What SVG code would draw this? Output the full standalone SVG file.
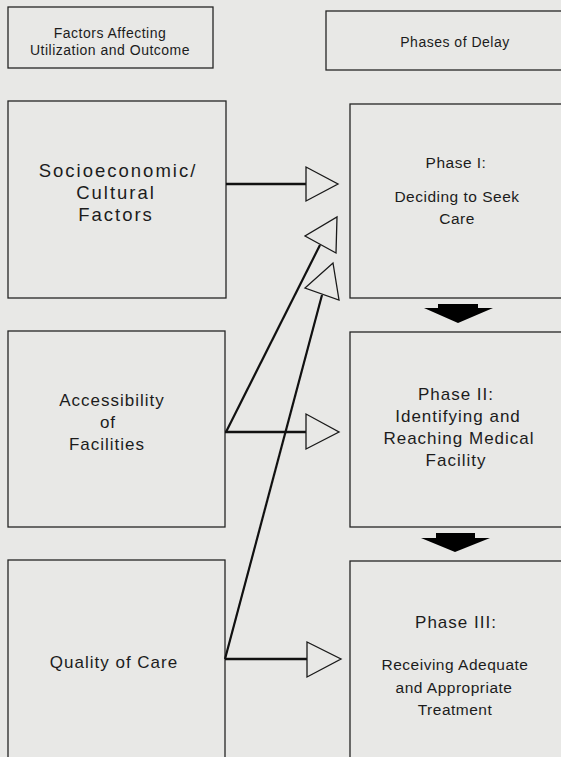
<svg xmlns="http://www.w3.org/2000/svg" width="561" height="757" viewBox="0 0 561 757">
<style>
.box{fill:none;stroke:#262626;stroke-width:1.3}
.t{font-family:"Liberation Sans",Arial,sans-serif;fill:#1c1c1c;text-anchor:middle}
.hd{font-size:14px;letter-spacing:0.5px}
.big{font-size:18.5px;letter-spacing:2px}
.md{font-size:17px;letter-spacing:1px}
.sm{font-size:15.5px;letter-spacing:0.5px}
.ln{stroke:#111;stroke-width:2.5;fill:none}
.dg{stroke:#111;stroke-width:2.2;fill:none}
.hd-tri{fill:#e8e8e6;stroke:#1a1a1a;stroke-width:1.3;stroke-linejoin:miter}
.blk{fill:#000}
</style>
<rect x="0" y="0" width="561" height="757" fill="#e8e8e6"/>

<g id="header-factors">
<rect class="box" x="8" y="7" width="205" height="61"/>
<text class="t hd" x="110" y="38">Factors Affecting</text>
<text class="t hd" x="110" y="55">Utilization and Outcome</text>
</g>
<g id="header-phases">
<rect class="box" x="326" y="11" width="260" height="59"/>
<text class="t hd" x="455" y="47">Phases of Delay</text>
</g>

<g id="socioeconomic">
<rect class="box" x="8" y="101" width="218" height="197"/>
<text class="t big" x="118" y="177">Socioeconomic/</text>
<text class="t big" x="116" y="199">Cultural</text>
<text class="t big" x="116" y="221">Factors</text>
</g>
<g id="accessibility">
<rect class="box" x="8" y="331" width="217" height="196"/>
<text class="t md" x="112" y="406">Accessibility</text>
<text class="t md" x="108" y="428">of</text>
<text class="t md" x="107" y="450">Facilities</text>
</g>
<g id="quality">
<rect class="box" x="8" y="560" width="217" height="220"/>
<text class="t md" x="114" y="668">Quality of Care</text>
</g>

<g id="phase1">
<rect class="box" x="350" y="104" width="230" height="194"/>
<text class="t sm" x="456" y="168">Phase I:</text>
<text class="t sm" x="457" y="202">Deciding to Seek</text>
<text class="t sm" x="457" y="224">Care</text>
</g>
<g id="phase2">
<rect class="box" x="350" y="332" width="230" height="195"/>
<text class="t md" x="456" y="400">Phase II:</text>
<text class="t md" x="458" y="422">Identifying and</text>
<text class="t md" x="459" y="444">Reaching Medical</text>
<text class="t md" x="456" y="466">Facility</text>
</g>
<g id="phase3">
<rect class="box" x="350" y="561" width="230" height="220"/>
<text class="t md" x="456" y="628">Phase III:</text>
<text class="t sm" x="455" y="670">Receiving Adequate</text>
<text class="t sm" x="454" y="693">and Appropriate</text>
<text class="t sm" x="455" y="715">Treatment</text>
</g>

<g id="connectors">
<line class="ln" x1="226" y1="184" x2="306" y2="184"/>
<polygon class="hd-tri" points="306,167 306,201 338,184"/>

<line class="ln" x1="225" y1="432" x2="306" y2="432"/>
<polygon class="hd-tri" points="306,414 306,449 339,432"/>

<line class="ln" x1="225" y1="659" x2="307" y2="659"/>
<polygon class="hd-tri" points="307,642 307,677 341,659"/>

<line class="dg" x1="226" y1="432" x2="320" y2="245"/>
<polygon class="hd-tri" points="337,217 336,253 305,236"/>

<line class="dg" x1="225" y1="659" x2="322" y2="295"/>
<polygon class="hd-tri" points="333,263 339,300 305,288"/>

<path class="blk" d="M438,304 H478 V308 H493 L458,323 L424,308 H438 Z"/>
<path class="blk" d="M436,533 H475 V538 H490 L455,552 L421,538 H436 Z"/>
</g>
</svg>
